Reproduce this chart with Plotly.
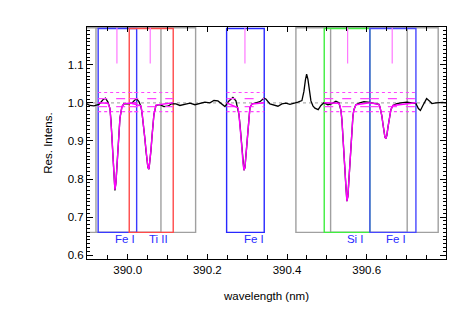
import plotly.graph_objects as go

# ---------------- data ----------------
# observed spectrum (black)
spec_wl = [389.8979, 389.9054, 389.9154, 389.9280, 389.9380, 389.9443, 389.9506, 389.9556, 389.9581, 389.9606,
           389.9631, 389.9656, 389.9681, 389.9706, 389.9731, 389.9757, 389.9782, 389.9807, 389.9857, 389.9907,
           390.0008, 390.0108, 390.0158, 390.0221, 390.0284, 390.0334, 390.0359, 390.0384, 390.0409, 390.0434,
           390.0459, 390.0484, 390.0509, 390.0535, 390.0560, 390.0585, 390.0610, 390.0635, 390.0660, 390.0710,
           390.0811, 390.0911, 390.1011, 390.1112, 390.1212, 390.1312, 390.1438, 390.1563, 390.1689, 390.1814,
           390.1940, 390.2065, 390.2166, 390.2266, 390.2366, 390.2442, 390.2542, 390.2642, 390.2718, 390.2768,
           390.2793, 390.2818, 390.2843, 390.2868, 390.2893, 390.2918, 390.2944, 390.2969, 390.2994, 390.3019,
           390.3044, 390.3069, 390.3119, 390.3220, 390.3320, 390.3420, 390.3470, 390.3571, 390.3671, 390.3772,
           390.3872, 390.3972, 390.4073, 390.4173, 390.4274, 390.4374, 390.4424, 390.4462, 390.4492, 390.4524,
           390.4562, 390.4600, 390.4650, 390.4700, 390.4783, 390.4851, 390.4926, 390.5026, 390.5127, 390.5227,
           390.5302, 390.5327, 390.5353, 390.5378, 390.5403, 390.5428, 390.5453, 390.5478, 390.5503, 390.5528,
           390.5553, 390.5578, 390.5604, 390.5629, 390.5654, 390.5679, 390.5729, 390.5829, 390.5930, 390.6030,
           390.6130, 390.6231, 390.6306, 390.6331, 390.6356, 390.6381, 390.6406, 390.6432, 390.6457, 390.6482,
           390.6507, 390.6532, 390.6557, 390.6582, 390.6607, 390.6657, 390.6758, 390.6858, 390.7009, 390.7134,
           390.7235, 390.7297, 390.7347, 390.7410, 390.7503, 390.7573, 390.7636, 390.7737, 390.7837, 390.7912,
           390.7987]
spec_int = [0.997, 0.993, 0.992, 0.996, 1.008, 1.012, 1.002, 0.985, 0.955, 0.910,
            0.860, 0.805, 0.770, 0.790, 0.835, 0.885, 0.930, 0.960, 0.990, 0.998,
            0.997, 0.999, 1.005, 1.011, 1.003, 0.990, 0.975, 0.955, 0.930, 0.905,
            0.875, 0.850, 0.830, 0.826, 0.845, 0.875, 0.910, 0.945, 0.970, 0.993,
            0.995, 0.990, 0.991, 0.998, 0.997, 0.993, 0.996, 0.999, 0.995, 0.998,
            1.002, 1.000, 1.006, 1.005, 0.995, 0.990, 1.005, 1.014, 1.005, 0.985,
            0.970, 0.945, 0.915, 0.880, 0.845, 0.823, 0.830, 0.860, 0.900, 0.940,
            0.970, 0.987, 0.997, 1.000, 1.003, 1.012, 1.010, 0.997, 0.993, 0.991,
            0.997, 0.999, 0.996, 0.998, 1.002, 1.006, 1.030, 1.060, 1.075, 1.062,
            1.030, 1.005, 0.992, 0.986, 0.982, 0.993, 1.000, 0.995, 0.998, 1.004,
            1.000, 0.993, 0.980, 0.955, 0.920, 0.875, 0.825, 0.780, 0.742, 0.755,
            0.800, 0.850, 0.895, 0.935, 0.965, 0.982, 0.995, 1.000, 1.003, 1.002,
            1.000, 0.998, 0.996, 0.990, 0.980, 0.965, 0.945, 0.925, 0.910, 0.906,
            0.915, 0.935, 0.955, 0.970, 0.982, 0.993, 0.998, 1.000, 1.002, 1.000,
            0.998, 0.985, 0.980, 0.993, 1.011, 1.005, 0.998, 1.000, 1.000, 1.001,
            0.999]

# fitted profiles (magenta)
fit_fe1_wl = [389.9260, 389.9506, 389.9556, 389.9581, 389.9606, 389.9631, 389.9656, 389.9681, 389.9706,
              389.9731, 389.9757, 389.9782, 389.9807, 389.9857, 389.9907, 390.0226]
fit_fe1_int = [1.0, 0.999, 0.985, 0.955, 0.910, 0.860, 0.805, 0.772, 0.790, 0.835, 0.885, 0.930, 0.960,
               0.990, 0.998, 1.0]
fit_ti2_wl = [390.0040, 390.0334, 390.0359, 390.0384, 390.0409, 390.0434, 390.0459, 390.0484, 390.0509,
              390.0535, 390.0560, 390.0585, 390.0610, 390.0635, 390.0660, 390.0710, 390.1144]
fit_ti2_int = [1.0, 0.992, 0.977, 0.955, 0.930, 0.905, 0.875, 0.850, 0.830, 0.826, 0.845, 0.875, 0.910,
               0.945, 0.970, 0.994, 1.0]
fit_fe2_wl = [390.2484, 390.2768, 390.2793, 390.2818, 390.2843, 390.2868, 390.2893, 390.2918, 390.2944,
              390.2969, 390.2994, 390.3019, 390.3044, 390.3069, 390.3119, 390.3428]
fit_fe2_int = [1.0, 0.987, 0.970, 0.945, 0.915, 0.880, 0.845, 0.823, 0.830, 0.860, 0.900, 0.940, 0.970,
               0.987, 0.997, 1.0]
fit_si1_wl = [390.4934, 390.5302, 390.5327, 390.5353, 390.5378, 390.5403, 390.5428, 390.5453, 390.5478,
              390.5503, 390.5528, 390.5553, 390.5578, 390.5604, 390.5629, 390.5654, 390.5679, 390.5729, 390.6080]
fit_si1_int = [1.0, 0.999, 0.993, 0.980, 0.955, 0.920, 0.875, 0.825, 0.780, 0.742, 0.755, 0.800, 0.850,
               0.895, 0.935, 0.965, 0.982, 0.995, 1.0]
fit_fe3_wl = [390.6080, 390.6306, 390.6331, 390.6356, 390.6381, 390.6406, 390.6432, 390.6457, 390.6482,
              390.6507, 390.6532, 390.6557, 390.6582, 390.6607, 390.6657, 390.7235]
fit_fe3_int = [1.0, 0.996, 0.990, 0.980, 0.965, 0.945, 0.925, 0.910, 0.906, 0.915, 0.935, 0.955, 0.970,
               0.982, 0.993, 1.0]

# line windows (coloured boxes)
line_names = ["Fe I", "Ti II", "Fe I", "Si I", "Fe I"]
line_wl = [389.9681, 390.0535, 390.2918, 390.5503, 390.6482]      # label anchor
marker_wl = [389.9731, 390.0567, 390.2944, 390.5521, 390.6640]    # vertical markers
box_left = [389.9260, 390.0040, 390.2484, 390.4934, 390.6080]
box_right = [390.0226, 390.1144, 390.3428, 390.6080, 390.7235]
box_colors = ["#3a3aff", "#ff4a4a", "#2828ff", "#40ee40", "#4848ff"]
box_bottom = 0.66
box_top = 1.195

# continuum windows (gray boxes)
gray_left = [389.8800, 389.9205, 390.4223, 390.5094]
gray_right = [390.0836, 390.1706, 390.7016, 390.7794]
gray_top = 1.197

# error levels drawn in each window
dotted_levels = [1.027, 0.977]
dashed_levels = [1.011, 0.990]
marker_bottom = 1.103
label_level = 0.640

x_ticks = [390.0, 390.2, 390.4, 390.6]
x_range = [389.898, 390.799]
y_range = [0.590, 1.199]

# ---------------- figure ----------------
fig = go.Figure()
shapes = []
for l, r in zip(gray_left, gray_right):
    shapes.append(dict(type="rect", xref="x", yref="y", x0=l, x1=r, y0=box_bottom, y1=gray_top,
                       line=dict(color="#a0a0a0", width=1.4), layer="below"))
for l, r, c in zip(box_left, box_right, box_colors):
    shapes.append(dict(type="rect", xref="x", yref="y", x0=l, x1=r, y0=box_bottom, y1=box_top,
                       line=dict(color=c, width=1.4), layer="below"))
fig.update_layout(shapes=shapes)

# gray dotted continuum
fig.add_trace(go.Scatter(x=x_range, y=[1.0, 1.0], mode="lines",
                         line=dict(color="#b0b0b0", width=1.2, dash="dot"), hoverinfo="skip"))

# observed spectrum
fig.add_trace(go.Scatter(x=spec_wl, y=spec_int, mode="lines",
                         line=dict(color="black", width=1.3)))

# window levels
for levels, dash in ((dotted_levels, "dot"), (dashed_levels, "dash")):
    xs, ys = [], []
    for l, r in zip(box_left, box_right):
        for lev in levels:
            xs += [l, r, None]
            ys += [lev, lev, None]
    fig.add_trace(go.Scatter(x=xs, y=ys, mode="lines",
                             line=dict(color="#ff44ff", width=1.2, dash=dash), hoverinfo="skip"))

# fits
for wl, it in ((fit_fe1_wl, fit_fe1_int), (fit_ti2_wl, fit_ti2_int), (fit_fe2_wl, fit_fe2_int),
               (fit_si1_wl, fit_si1_int), (fit_fe3_wl, fit_fe3_int)):
    fig.add_trace(go.Scatter(x=wl, y=it, mode="lines", line=dict(color="#ff00ff", width=1.4)))

# vertical markers
mx, my = [], []
for w in marker_wl:
    mx += [w, w, None]
    my += [marker_bottom, gray_top, None]
fig.add_trace(go.Scatter(x=mx, y=my, mode="lines", line=dict(color="#ff77ff", width=1.2),
                         hoverinfo="skip"))

# labels
fig.add_trace(go.Scatter(x=line_wl, y=[label_level] * len(line_wl), mode="text", text=line_names,
                         textposition="middle right",
                         textfont=dict(family="Liberation Sans, Arial, sans-serif", size=11.5, color="#2a2aff")))

axis_font = dict(family="Liberation Sans, Arial, sans-serif", size=11.5, color="black")
fig.update_layout(
    width=472, height=314,
    margin=dict(l=79, r=34, t=19, b=63),
    paper_bgcolor="white", plot_bgcolor="white",
    showlegend=False,
    font=axis_font,
    xaxis=dict(range=x_range, tickvals=x_ticks, ticktext=[f"{v:.1f}" for v in x_ticks],
               ticks="inside", ticklen=5, tickcolor="black", tickwidth=1,
               minor=dict(dtick=0.05, tick0=390.0, ticks="inside", ticklen=4, tickcolor="black"),
               showline=True, linecolor="black", linewidth=1, mirror="ticks",
               showgrid=False, zeroline=False,
               title=dict(text="wavelength (nm)", standoff=17, font=axis_font),
               tickfont=axis_font),
    yaxis=dict(range=y_range, tick0=0.6, dtick=0.1, tickformat=".1f",
               ticks="inside", ticklen=6, tickcolor="black", tickwidth=1,
               minor=dict(dtick=0.01, tick0=0.6, ticks="inside", ticklen=3, tickcolor="black"),
               showline=True, linecolor="black", linewidth=1, mirror="ticks",
               showgrid=False, zeroline=False,
               title=dict(text="Res. Intens.", standoff=12, font=axis_font),
               tickfont=axis_font),
)

fig.write_html("out.html")
